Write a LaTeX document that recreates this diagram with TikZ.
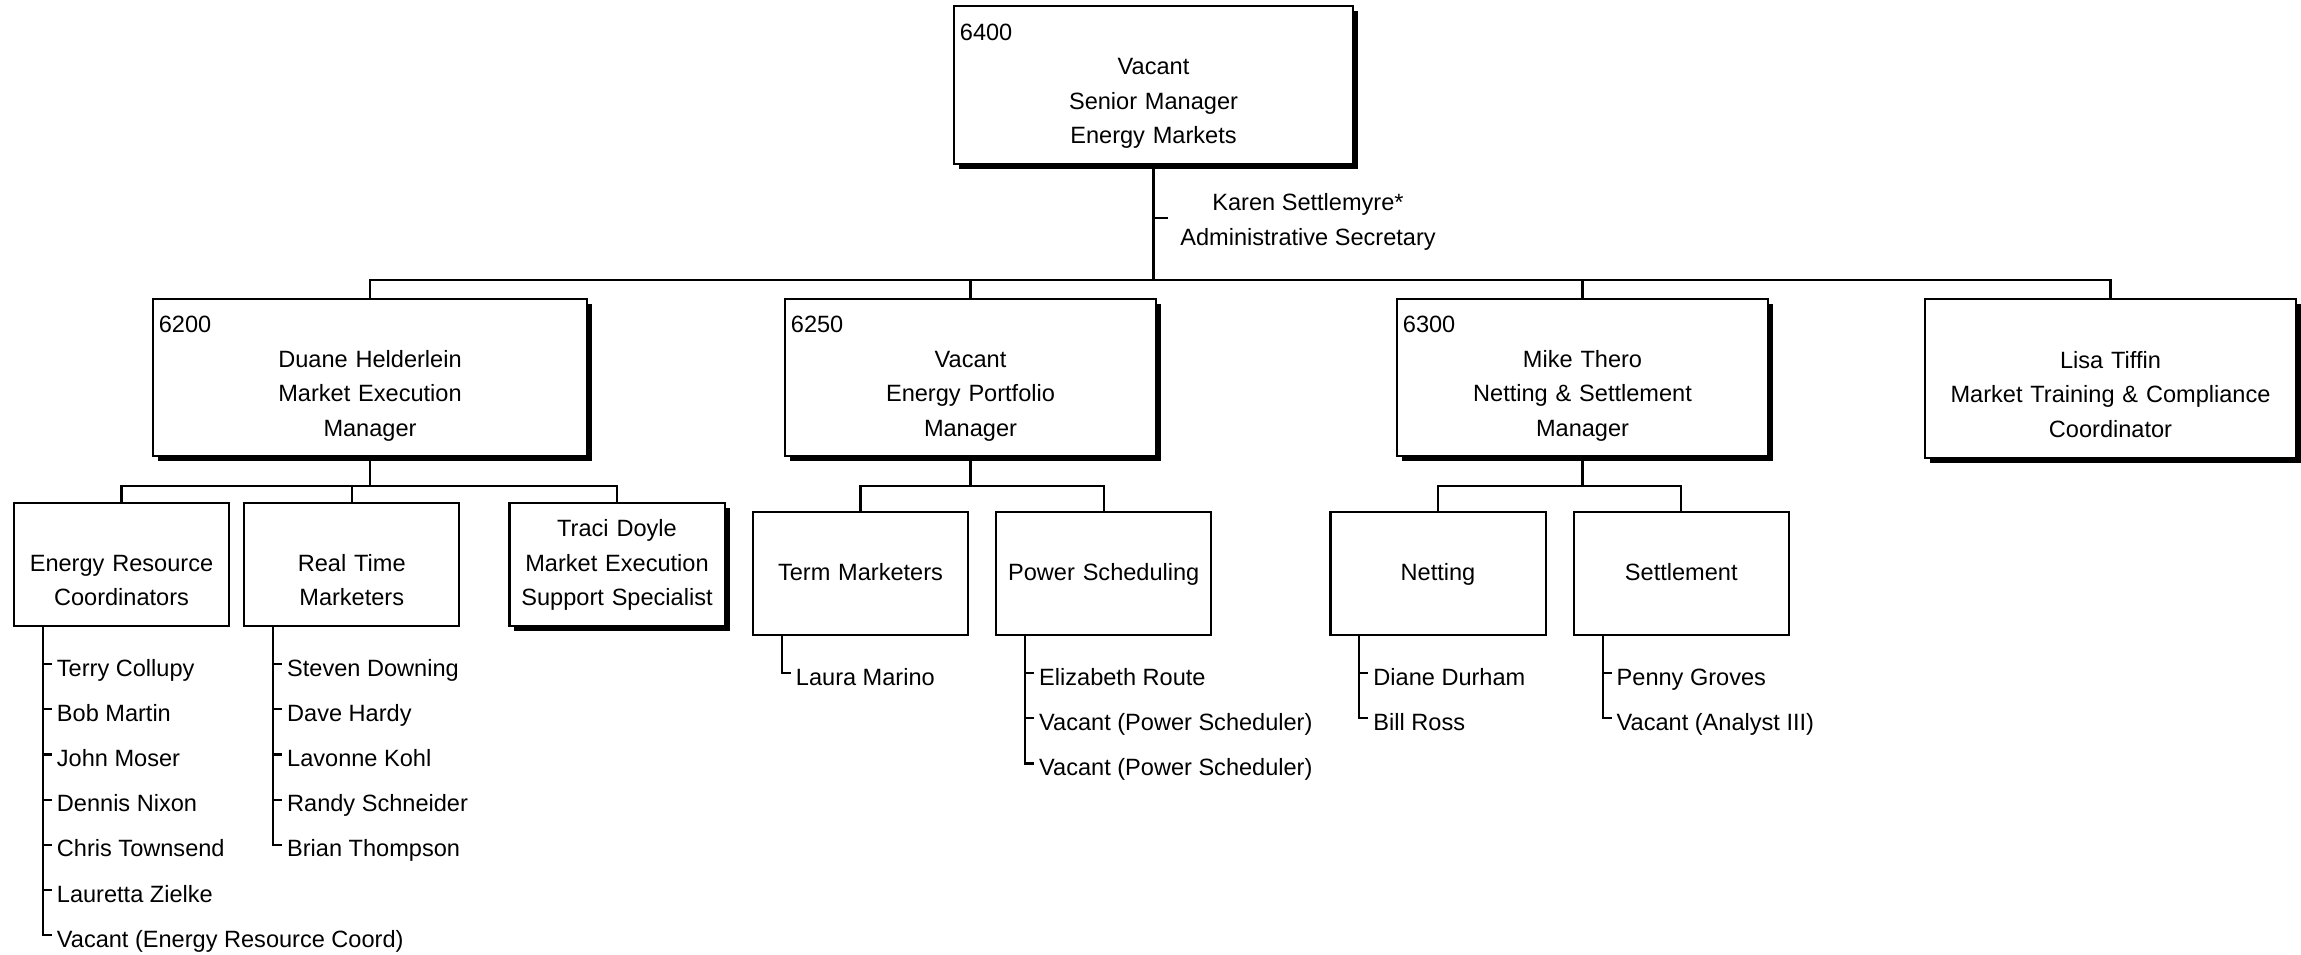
\documentclass[tikz,border=0pt]{standalone}
\usepackage{fontspec}
\setmainfont{Liberation Sans}
\usetikzlibrary{calc,positioning,shadows}

\tikzset{
  shdw/.style={drop shadow={shadow xshift=0.05cm, shadow yshift=-0.05cm, opacity=1, fill=black}},
  mgr/.style={draw, fill=white, align=center, inner xsep=0.06cm, inner ysep=0pt, minimum height=1.57cm, shdw},
  team/.style={draw, fill=white, align=center, inner xsep=0.06cm, inner ysep=0pt, text width=2.03cm, minimum height=1.23cm},
  item/.style={anchor=base west, inner sep=0pt}
}

\begin{document}
\begin{tikzpicture}[x=0.01cm, y=-0.01cm, line width=0.6pt, font=\fontsize{6.7}{9.8}\selectfont]
  \useasboundingbox (0,0) rectangle (2301,954);
  \coordinate (bus1) at (0,280); \coordinate (bus2) at (0,486);
  % top of the chart
  \node[mgr, text width=3.87cm, minimum height=1.58cm] (top) at (1153.5,85)
    {\strut\makebox[\hsize][l]{6400}\\Vacant\\Senior Manager\\Energy Markets\strut};
  \node[align=center] (karen) at (1308,222) {Karen Settlemyre*\\Administrative Secretary};
  \coordinate (kt) at (1168,218);
  % managers
  \node[mgr, text width=4.22cm] (dh) at (370,377.5)
    {\strut\makebox[\hsize][l]{6200}\\Duane Helderlein\\Market Execution\\Manager\strut};
  \node[mgr, text width=3.59cm] (ep) at (970.5,377.5)
    {\strut\makebox[\hsize][l]{6250}\\Vacant\\Energy Portfolio\\Manager\strut};
  \node[mgr, text width=3.59cm] (mt) at (1582.5,377.5)
    {\strut\makebox[\hsize][l]{6300}\\Mike Thero\\Netting \& Settlement\\Manager\strut};
  \node[mgr, text width=3.59cm, minimum height=1.59cm] (lt) at (2110.5,378.5)
    {\strut\\Lisa Tiffin\\Market Training \& Compliance\\Coordinator\strut};
  % teams
  \node[team] (erc) at (121.5,564.5) {\strut\\Energy Resource\\Coordinators\strut};
  \node[team, right=0.13cm of erc] (rt) {\strut\\Real Time\\Marketers\strut};
  \node[team, shdw, right=0.48cm of rt] (td) {\strut Traci Doyle\\Market Execution\\Support Specialist\strut};
  \node[team] (tm) at (860.5,573.5) {\strut\\Term Marketers\\\strut};
  \node[team, right=0.26cm of tm] (ps) {\strut\\Power Scheduling\\\strut};
  \node[team] (nt) at (1438,573.5) {\strut\\Netting\\\strut};
  \node[team, right=0.26cm of nt] (st) {\strut\\Settlement\\\strut};
  % reporting lines
  \draw (top.south) -- (top.south |- bus1);
  \draw (top.south |- kt) -- (kt);
  \draw (dh.north) |- (bus1 -| lt.north) -- (lt.north);
  \draw (ep.north) -- (ep.north |- bus1);
  \draw (mt.north) -- (mt.north |- bus1);
  \draw (dh.south) -- (dh.south |- bus2);
  \draw (erc.north) |- (bus2 -| td.north) -- (td.north);
  \draw (rt.north) -- (rt.north |- bus2);
  \draw (ep.south) -- (ep.south |- bus2);
  \draw (tm.north) |- (bus2 -| ps.north) -- (ps.north);
  \draw (mt.south) -- (mt.south |- bus2);
  \draw (nt.north) |- (bus2 -| st.north) -- (st.north);
  % staff lists
  \foreach \nm [count=\i] in {Terry Collupy, Bob Martin, John Moser, Dennis Nixon, Chris Townsend, Lauretta Zielke, Vacant (Energy Resource Coord)} {
    \node[item] (erc\i) at ([shift={(43,49+45.2*\i-45.2)}]erc.south west) {\nm};
    \draw ([xshift=0.3cm]erc.south west) |- ([xshift=-0.04cm,yshift=0.12cm]erc\i.base west);
  }
  \foreach \nm [count=\i] in {Steven Downing, Dave Hardy, Lavonne Kohl, Randy Schneider, Brian Thompson} {
    \node[item] (rt\i) at ([shift={(43,49+45.2*\i-45.2)}]rt.south west) {\nm};
    \draw ([xshift=0.3cm]rt.south west) |- ([xshift=-0.04cm,yshift=0.12cm]rt\i.base west);
  }
  \foreach \nm [count=\i] in {Laura Marino} {
    \node[item] (tm\i) at ([shift={(43,49+45.2*\i-45.2)}]tm.south west) {\nm};
    \draw ([xshift=0.3cm]tm.south west) |- ([xshift=-0.04cm,yshift=0.12cm]tm\i.base west);
  }
  \foreach \nm [count=\i] in {Elizabeth Route, Vacant (Power Scheduler), Vacant (Power Scheduler)} {
    \node[item] (ps\i) at ([shift={(43,49+45.2*\i-45.2)}]ps.south west) {\nm};
    \draw ([xshift=0.3cm]ps.south west) |- ([xshift=-0.04cm,yshift=0.12cm]ps\i.base west);
  }
  \foreach \nm [count=\i] in {Diane Durham, Bill Ross} {
    \node[item] (nt\i) at ([shift={(43,49+45.2*\i-45.2)}]nt.south west) {\nm};
    \draw ([xshift=0.3cm]nt.south west) |- ([xshift=-0.04cm,yshift=0.12cm]nt\i.base west);
  }
  \foreach \nm [count=\i] in {Penny Groves, Vacant (Analyst III)} {
    \node[item] (st\i) at ([shift={(43,49+45.2*\i-45.2)}]st.south west) {\nm};
    \draw ([xshift=0.3cm]st.south west) |- ([xshift=-0.04cm,yshift=0.12cm]st\i.base west);
  }
\end{tikzpicture}
\end{document}
